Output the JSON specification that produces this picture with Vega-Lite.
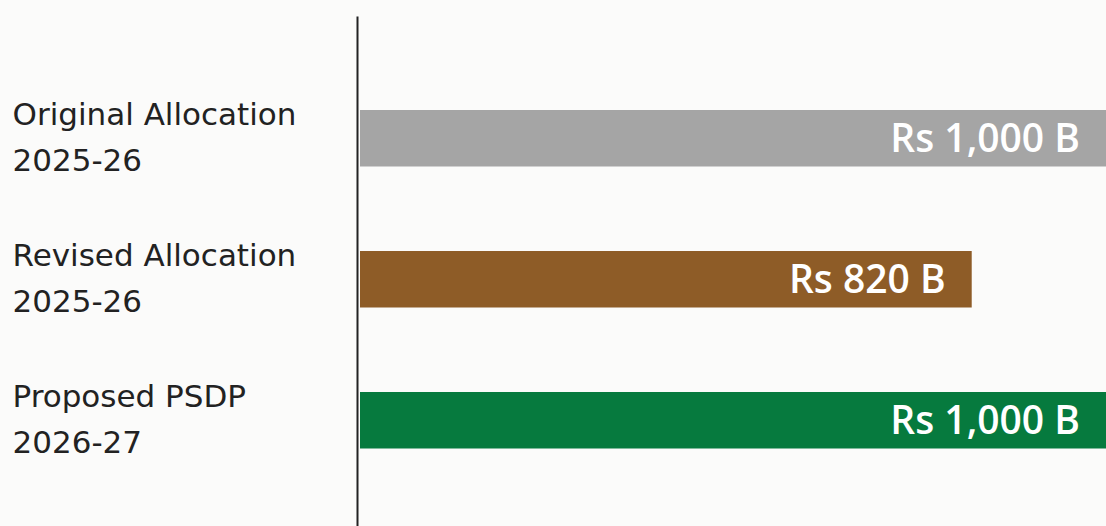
{
  "$schema": "https://vega.github.io/schema/vega-lite/v6.json",
  "width": 749,
  "height": 510,
  "autosize": "none",
  "padding": {"left": 357, "top": 16, "right": 0, "bottom": 0},
  "background": "#fbfbfa",
  "config": {"view": {"stroke": null}},
  "data": {"values": [
    {"category": "Original Allocation|2025-26", "value": 1000, "label": "Rs 1,000 B", "color": "#a5a5a5"},
    {"category": "Revised Allocation|2025-26", "value": 820, "label": "Rs 820 B", "color": "#8e5c27"},
    {"category": "Proposed PSDP|2026-27", "value": 1000, "label": "Rs 1,000 B", "color": "#067a3e"}
  ]},
  "layer": [
    {"mark": {"type": "bar"},
     "encoding": {
       "y": {"field": "category", "type": "nominal", "sort": null,
         "scale": {"paddingInner": 0.6, "paddingOuter": 0.6085, "align": 0.548},
         "axis": {"title": null, "domain": true, "domainColor": "#222222", "domainWidth": 2, "ticks": false,
           "labelAlign": "left", "labelPadding": 345,
           "labelLimit": 400, "labelFont": "DejaVu Sans", "labelFontSize": 31, "labelColor": "#222222",
           "labelLineHeight": 46, "labelBaseline": "middle", "labelOffset": -22,
           "labelExpr": "split(datum.label, '|')"}},
       "x": {"field": "value", "type": "quantitative", "scale": {"domain": [0, 1000], "nice": false, "range": [3, 749]}, "axis": null},
       "color": {"field": "color", "type": "nominal", "scale": null}
     }},
    {"mark": {"type": "text", "align": "right", "baseline": "middle", "dx": -26, "dy": 2, "font": "Open Sans", "fontWeight": 600, "fontSize": 39, "color": "white"},
     "encoding": {
       "y": {"field": "category", "type": "nominal", "sort": null},
       "x": {"field": "value", "type": "quantitative"},
       "text": {"field": "label"}
     }}
  ]
}
